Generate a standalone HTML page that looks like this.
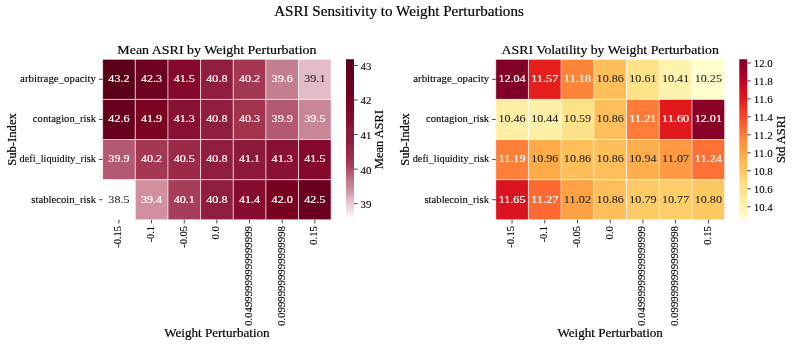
<!DOCTYPE html>
<html><head><meta charset="utf-8"><style>
html,body{margin:0;padding:0;background:#fff;overflow:hidden;}
svg{display:block;will-change:transform;}
text{font-family:"Liberation Serif",serif;}
</style></head><body>
<svg width="793" height="346" viewBox="0 0 793 346">
<rect width="793" height="346" fill="#fff"/>
<rect x="102.60" y="59.25" width="32.66" height="40.14" fill="#5a0018"/>
<rect x="135.26" y="59.25" width="32.66" height="40.14" fill="#6f0120"/>
<rect x="167.91" y="59.25" width="32.66" height="40.14" fill="#84082c"/>
<rect x="200.57" y="59.25" width="32.66" height="40.14" fill="#8f1d3e"/>
<rect x="233.23" y="59.25" width="32.66" height="40.14" fill="#a43853"/>
<rect x="265.89" y="59.25" width="32.66" height="40.14" fill="#c37e90"/>
<rect x="298.54" y="59.25" width="32.66" height="40.14" fill="#e2bcc7"/>
<rect x="102.60" y="99.39" width="32.66" height="40.14" fill="#67001e"/>
<rect x="135.26" y="99.39" width="32.66" height="40.14" fill="#7b0322"/>
<rect x="167.91" y="99.39" width="32.66" height="40.14" fill="#881133"/>
<rect x="200.57" y="99.39" width="32.66" height="40.14" fill="#8f1d3e"/>
<rect x="233.23" y="99.39" width="32.66" height="40.14" fill="#a1334d"/>
<rect x="265.89" y="99.39" width="32.66" height="40.14" fill="#b35971"/>
<rect x="298.54" y="99.39" width="32.66" height="40.14" fill="#c98697"/>
<rect x="102.60" y="139.53" width="32.66" height="40.14" fill="#b35971"/>
<rect x="135.26" y="139.53" width="32.66" height="40.14" fill="#a43853"/>
<rect x="167.91" y="139.53" width="32.66" height="40.14" fill="#9a2a47"/>
<rect x="200.57" y="139.53" width="32.66" height="40.14" fill="#8f1d3e"/>
<rect x="233.23" y="139.53" width="32.66" height="40.14" fill="#8c193a"/>
<rect x="265.89" y="139.53" width="32.66" height="40.14" fill="#881133"/>
<rect x="298.54" y="139.53" width="32.66" height="40.14" fill="#84082c"/>
<rect x="102.60" y="179.66" width="32.66" height="40.14" fill="#ffffff"/>
<rect x="135.26" y="179.66" width="32.66" height="40.14" fill="#d0909f"/>
<rect x="167.91" y="179.66" width="32.66" height="40.14" fill="#a63e5a"/>
<rect x="200.57" y="179.66" width="32.66" height="40.14" fill="#8f1d3e"/>
<rect x="233.23" y="179.66" width="32.66" height="40.14" fill="#860d30"/>
<rect x="265.89" y="179.66" width="32.66" height="40.14" fill="#78021f"/>
<rect x="298.54" y="179.66" width="32.66" height="40.14" fill="#690020"/>
<line x1="102.60" y1="58.90" x2="102.60" y2="220.15" stroke="#fff" stroke-width="0.7"/>
<line x1="135.26" y1="58.90" x2="135.26" y2="220.15" stroke="#fff" stroke-width="0.7"/>
<line x1="167.91" y1="58.90" x2="167.91" y2="220.15" stroke="#fff" stroke-width="0.7"/>
<line x1="200.57" y1="58.90" x2="200.57" y2="220.15" stroke="#fff" stroke-width="0.7"/>
<line x1="233.23" y1="58.90" x2="233.23" y2="220.15" stroke="#fff" stroke-width="0.7"/>
<line x1="265.89" y1="58.90" x2="265.89" y2="220.15" stroke="#fff" stroke-width="0.7"/>
<line x1="298.54" y1="58.90" x2="298.54" y2="220.15" stroke="#fff" stroke-width="0.7"/>
<line x1="331.20" y1="58.90" x2="331.20" y2="220.15" stroke="#fff" stroke-width="0.7"/>
<line x1="102.25" y1="59.25" x2="331.55" y2="59.25" stroke="#fff" stroke-width="0.7"/>
<line x1="102.25" y1="99.39" x2="331.55" y2="99.39" stroke="#fff" stroke-width="0.7"/>
<line x1="102.25" y1="139.53" x2="331.55" y2="139.53" stroke="#fff" stroke-width="0.7"/>
<line x1="102.25" y1="179.66" x2="331.55" y2="179.66" stroke="#fff" stroke-width="0.7"/>
<line x1="102.25" y1="219.80" x2="331.55" y2="219.80" stroke="#fff" stroke-width="0.7"/>
<text x="118.93" y="82.22" text-anchor="middle" font-size="10.64" fill="#ffffff" stroke="#ffffff" stroke-width="0.18" textLength="21.15" lengthAdjust="spacingAndGlyphs">43.2</text>
<text x="151.59" y="82.22" text-anchor="middle" font-size="10.64" fill="#ffffff" stroke="#ffffff" stroke-width="0.18" textLength="21.15" lengthAdjust="spacingAndGlyphs">42.3</text>
<text x="184.24" y="82.22" text-anchor="middle" font-size="10.64" fill="#ffffff" stroke="#ffffff" stroke-width="0.18" textLength="21.15" lengthAdjust="spacingAndGlyphs">41.5</text>
<text x="216.90" y="82.22" text-anchor="middle" font-size="10.64" fill="#ffffff" stroke="#ffffff" stroke-width="0.18" textLength="21.15" lengthAdjust="spacingAndGlyphs">40.8</text>
<text x="249.56" y="82.22" text-anchor="middle" font-size="10.64" fill="#ffffff" stroke="#ffffff" stroke-width="0.18" textLength="21.15" lengthAdjust="spacingAndGlyphs">40.2</text>
<text x="282.21" y="82.22" text-anchor="middle" font-size="10.64" fill="#ffffff" stroke="#ffffff" stroke-width="0.18" textLength="21.15" lengthAdjust="spacingAndGlyphs">39.6</text>
<text x="314.87" y="82.22" text-anchor="middle" font-size="10.64" fill="#262626" stroke="#262626" stroke-width="0.08" textLength="21.15" lengthAdjust="spacingAndGlyphs">39.1</text>
<text x="118.93" y="122.36" text-anchor="middle" font-size="10.64" fill="#ffffff" stroke="#ffffff" stroke-width="0.18" textLength="21.15" lengthAdjust="spacingAndGlyphs">42.6</text>
<text x="151.59" y="122.36" text-anchor="middle" font-size="10.64" fill="#ffffff" stroke="#ffffff" stroke-width="0.18" textLength="21.15" lengthAdjust="spacingAndGlyphs">41.9</text>
<text x="184.24" y="122.36" text-anchor="middle" font-size="10.64" fill="#ffffff" stroke="#ffffff" stroke-width="0.18" textLength="21.15" lengthAdjust="spacingAndGlyphs">41.3</text>
<text x="216.90" y="122.36" text-anchor="middle" font-size="10.64" fill="#ffffff" stroke="#ffffff" stroke-width="0.18" textLength="21.15" lengthAdjust="spacingAndGlyphs">40.8</text>
<text x="249.56" y="122.36" text-anchor="middle" font-size="10.64" fill="#ffffff" stroke="#ffffff" stroke-width="0.18" textLength="21.15" lengthAdjust="spacingAndGlyphs">40.3</text>
<text x="282.21" y="122.36" text-anchor="middle" font-size="10.64" fill="#ffffff" stroke="#ffffff" stroke-width="0.18" textLength="21.15" lengthAdjust="spacingAndGlyphs">39.9</text>
<text x="314.87" y="122.36" text-anchor="middle" font-size="10.64" fill="#ffffff" stroke="#ffffff" stroke-width="0.18" textLength="21.15" lengthAdjust="spacingAndGlyphs">39.5</text>
<text x="118.93" y="162.49" text-anchor="middle" font-size="10.64" fill="#ffffff" stroke="#ffffff" stroke-width="0.18" textLength="21.15" lengthAdjust="spacingAndGlyphs">39.9</text>
<text x="151.59" y="162.49" text-anchor="middle" font-size="10.64" fill="#ffffff" stroke="#ffffff" stroke-width="0.18" textLength="21.15" lengthAdjust="spacingAndGlyphs">40.2</text>
<text x="184.24" y="162.49" text-anchor="middle" font-size="10.64" fill="#ffffff" stroke="#ffffff" stroke-width="0.18" textLength="21.15" lengthAdjust="spacingAndGlyphs">40.5</text>
<text x="216.90" y="162.49" text-anchor="middle" font-size="10.64" fill="#ffffff" stroke="#ffffff" stroke-width="0.18" textLength="21.15" lengthAdjust="spacingAndGlyphs">40.8</text>
<text x="249.56" y="162.49" text-anchor="middle" font-size="10.64" fill="#ffffff" stroke="#ffffff" stroke-width="0.18" textLength="21.15" lengthAdjust="spacingAndGlyphs">41.1</text>
<text x="282.21" y="162.49" text-anchor="middle" font-size="10.64" fill="#ffffff" stroke="#ffffff" stroke-width="0.18" textLength="21.15" lengthAdjust="spacingAndGlyphs">41.3</text>
<text x="314.87" y="162.49" text-anchor="middle" font-size="10.64" fill="#ffffff" stroke="#ffffff" stroke-width="0.18" textLength="21.15" lengthAdjust="spacingAndGlyphs">41.5</text>
<text x="118.93" y="202.63" text-anchor="middle" font-size="10.64" fill="#262626" stroke="#262626" stroke-width="0.08" textLength="21.15" lengthAdjust="spacingAndGlyphs">38.5</text>
<text x="151.59" y="202.63" text-anchor="middle" font-size="10.64" fill="#ffffff" stroke="#ffffff" stroke-width="0.18" textLength="21.15" lengthAdjust="spacingAndGlyphs">39.4</text>
<text x="184.24" y="202.63" text-anchor="middle" font-size="10.64" fill="#ffffff" stroke="#ffffff" stroke-width="0.18" textLength="21.15" lengthAdjust="spacingAndGlyphs">40.1</text>
<text x="216.90" y="202.63" text-anchor="middle" font-size="10.64" fill="#ffffff" stroke="#ffffff" stroke-width="0.18" textLength="21.15" lengthAdjust="spacingAndGlyphs">40.8</text>
<text x="249.56" y="202.63" text-anchor="middle" font-size="10.64" fill="#ffffff" stroke="#ffffff" stroke-width="0.18" textLength="21.15" lengthAdjust="spacingAndGlyphs">41.4</text>
<text x="282.21" y="202.63" text-anchor="middle" font-size="10.64" fill="#ffffff" stroke="#ffffff" stroke-width="0.18" textLength="21.15" lengthAdjust="spacingAndGlyphs">42.0</text>
<text x="314.87" y="202.63" text-anchor="middle" font-size="10.64" fill="#ffffff" stroke="#ffffff" stroke-width="0.18" textLength="21.15" lengthAdjust="spacingAndGlyphs">42.5</text>
<line x1="99.00" y1="79.32" x2="102.60" y2="79.32" stroke="#000" stroke-width="0.75"/>
<text x="96.00" y="82.22" text-anchor="end" font-size="9.52" fill="#000" stroke="#000" stroke-width="0.1" textLength="75.88" lengthAdjust="spacingAndGlyphs">arbitrage_opacity</text>
<line x1="99.00" y1="119.46" x2="102.60" y2="119.46" stroke="#000" stroke-width="0.75"/>
<text x="96.00" y="122.36" text-anchor="end" font-size="9.52" fill="#000" stroke="#000" stroke-width="0.1" textLength="63.13" lengthAdjust="spacingAndGlyphs">contagion_risk</text>
<line x1="99.00" y1="159.59" x2="102.60" y2="159.59" stroke="#000" stroke-width="0.75"/>
<text x="96.00" y="162.49" text-anchor="end" font-size="9.52" fill="#000" stroke="#000" stroke-width="0.1" textLength="76.38" lengthAdjust="spacingAndGlyphs">defi_liquidity_risk</text>
<line x1="99.00" y1="199.73" x2="102.60" y2="199.73" stroke="#000" stroke-width="0.75"/>
<text x="96.00" y="202.63" text-anchor="end" font-size="9.52" fill="#000" stroke="#000" stroke-width="0.1" textLength="64.65" lengthAdjust="spacingAndGlyphs">stablecoin_risk</text>
<line x1="118.93" y1="219.80" x2="118.93" y2="223.40" stroke="#000" stroke-width="0.75"/>
<text transform="translate(121.23,226.00) rotate(-90)" text-anchor="end" font-size="9.52" fill="#000" stroke="#000" stroke-width="0.1" textLength="21.80" lengthAdjust="spacingAndGlyphs">-0.15</text>
<line x1="151.59" y1="219.80" x2="151.59" y2="223.40" stroke="#000" stroke-width="0.75"/>
<text transform="translate(153.89,226.00) rotate(-90)" text-anchor="end" font-size="9.52" fill="#000" stroke="#000" stroke-width="0.1" textLength="16.39" lengthAdjust="spacingAndGlyphs">-0.1</text>
<line x1="184.24" y1="219.80" x2="184.24" y2="223.40" stroke="#000" stroke-width="0.75"/>
<text transform="translate(186.54,226.00) rotate(-90)" text-anchor="end" font-size="9.52" fill="#000" stroke="#000" stroke-width="0.1" textLength="21.80" lengthAdjust="spacingAndGlyphs">-0.05</text>
<line x1="216.90" y1="219.80" x2="216.90" y2="223.40" stroke="#000" stroke-width="0.75"/>
<text transform="translate(219.20,226.00) rotate(-90)" text-anchor="end" font-size="9.52" fill="#000" stroke="#000" stroke-width="0.1" textLength="13.52" lengthAdjust="spacingAndGlyphs">0.0</text>
<line x1="249.56" y1="219.80" x2="249.56" y2="223.40" stroke="#000" stroke-width="0.75"/>
<text transform="translate(251.86,226.00) rotate(-90)" text-anchor="end" font-size="9.52" fill="#000" stroke="#000" stroke-width="0.1" textLength="100.05" lengthAdjust="spacingAndGlyphs">0.04999999999999999</text>
<line x1="282.21" y1="219.80" x2="282.21" y2="223.40" stroke="#000" stroke-width="0.75"/>
<text transform="translate(284.51,226.00) rotate(-90)" text-anchor="end" font-size="9.52" fill="#000" stroke="#000" stroke-width="0.1" textLength="100.05" lengthAdjust="spacingAndGlyphs">0.09999999999999998</text>
<line x1="314.87" y1="219.80" x2="314.87" y2="223.40" stroke="#000" stroke-width="0.75"/>
<text transform="translate(317.17,226.00) rotate(-90)" text-anchor="end" font-size="9.52" fill="#000" stroke="#000" stroke-width="0.1" textLength="18.93" lengthAdjust="spacingAndGlyphs">0.15</text>
<text x="216.90" y="53.70" text-anchor="middle" font-size="12.49" fill="#000" stroke="#000" stroke-width="0.18" textLength="199.11" lengthAdjust="spacingAndGlyphs">Mean ASRI by Weight Perturbation</text>
<text x="216.90" y="337.10" text-anchor="middle" font-size="11.48" fill="#000" stroke="#000" stroke-width="0.18" textLength="105.45" lengthAdjust="spacingAndGlyphs">Weight Perturbation</text>
<text transform="translate(15.70,139.53) rotate(-90)" text-anchor="middle" font-size="11.48" fill="#000" stroke="#000" stroke-width="0.18" textLength="52.71" lengthAdjust="spacingAndGlyphs">Sub-Index</text>
<defs><linearGradient id="gL" x1="0" y1="0" x2="0" y2="1"><stop offset="0.0000" stop-color="#5a0018"/><stop offset="0.0127" stop-color="#5b0019"/><stop offset="0.0253" stop-color="#5d0019"/><stop offset="0.0380" stop-color="#5e001a"/><stop offset="0.0506" stop-color="#5f001b"/><stop offset="0.0633" stop-color="#61001b"/><stop offset="0.0759" stop-color="#62001c"/><stop offset="0.0886" stop-color="#63001d"/><stop offset="0.1013" stop-color="#64001d"/><stop offset="0.1139" stop-color="#66001e"/><stop offset="0.1266" stop-color="#67001f"/><stop offset="0.1392" stop-color="#69001f"/><stop offset="0.1519" stop-color="#6a0020"/><stop offset="0.1646" stop-color="#6c0020"/><stop offset="0.1772" stop-color="#6e0120"/><stop offset="0.1899" stop-color="#6f0120"/><stop offset="0.2025" stop-color="#710120"/><stop offset="0.2152" stop-color="#73011f"/><stop offset="0.2278" stop-color="#75021f"/><stop offset="0.2405" stop-color="#76021f"/><stop offset="0.2532" stop-color="#78021f"/><stop offset="0.2658" stop-color="#7a0321"/><stop offset="0.2785" stop-color="#7b0422"/><stop offset="0.2911" stop-color="#7c0424"/><stop offset="0.3038" stop-color="#7e0525"/><stop offset="0.3165" stop-color="#7f0627"/><stop offset="0.3291" stop-color="#810628"/><stop offset="0.3418" stop-color="#82072a"/><stop offset="0.3544" stop-color="#83082b"/><stop offset="0.3671" stop-color="#84092d"/><stop offset="0.3797" stop-color="#860c2f"/><stop offset="0.3924" stop-color="#870e31"/><stop offset="0.4051" stop-color="#881133"/><stop offset="0.4177" stop-color="#891335"/><stop offset="0.4304" stop-color="#8a1637"/><stop offset="0.4430" stop-color="#8b1939"/><stop offset="0.4557" stop-color="#8c1a3a"/><stop offset="0.4684" stop-color="#8d1b3b"/><stop offset="0.4810" stop-color="#8d1b3c"/><stop offset="0.4937" stop-color="#8d1b3c"/><stop offset="0.5063" stop-color="#8e1c3d"/><stop offset="0.5190" stop-color="#8f1e3e"/><stop offset="0.5316" stop-color="#922140"/><stop offset="0.5443" stop-color="#942342"/><stop offset="0.5570" stop-color="#962644"/><stop offset="0.5696" stop-color="#982846"/><stop offset="0.5823" stop-color="#9b2b48"/><stop offset="0.5949" stop-color="#9d2e4a"/><stop offset="0.6076" stop-color="#9f304c"/><stop offset="0.6203" stop-color="#a1334d"/><stop offset="0.6329" stop-color="#a33651"/><stop offset="0.6456" stop-color="#a53a55"/><stop offset="0.6582" stop-color="#a63d58"/><stop offset="0.6709" stop-color="#a8425e"/><stop offset="0.6835" stop-color="#ac4a64"/><stop offset="0.6962" stop-color="#b1556d"/><stop offset="0.7089" stop-color="#b45b73"/><stop offset="0.7215" stop-color="#b76278"/><stop offset="0.7342" stop-color="#ba697e"/><stop offset="0.7468" stop-color="#bd7185"/><stop offset="0.7595" stop-color="#c0788b"/><stop offset="0.7722" stop-color="#c37e90"/><stop offset="0.7848" stop-color="#c68394"/><stop offset="0.7975" stop-color="#cb8a9a"/><stop offset="0.8101" stop-color="#cf8f9e"/><stop offset="0.8228" stop-color="#d296a4"/><stop offset="0.8354" stop-color="#d69eac"/><stop offset="0.8481" stop-color="#daa9b5"/><stop offset="0.8608" stop-color="#ddb1bd"/><stop offset="0.8734" stop-color="#e1b9c4"/><stop offset="0.8861" stop-color="#e4c0ca"/><stop offset="0.8987" stop-color="#e8c9d2"/><stop offset="0.9114" stop-color="#eacfd7"/><stop offset="0.9241" stop-color="#edd6dd"/><stop offset="0.9367" stop-color="#f0dce2"/><stop offset="0.9494" stop-color="#f4e5e9"/><stop offset="0.9620" stop-color="#f7ebef"/><stop offset="0.9747" stop-color="#f9f2f4"/><stop offset="0.9873" stop-color="#fcf8fa"/><stop offset="1.0000" stop-color="#ffffff"/></linearGradient></defs>
<rect x="346.00" y="59.25" width="8.00" height="160.55" fill="url(#gL)"/>
<line x1="354.00" y1="203.69" x2="357.60" y2="203.69" stroke="#000" stroke-width="0.75"/>
<text x="360.60" y="208.09" text-anchor="start" font-size="9.52" fill="#000" stroke="#000" stroke-width="0.1" textLength="10.82" lengthAdjust="spacingAndGlyphs">39</text>
<line x1="354.00" y1="169.12" x2="357.60" y2="169.12" stroke="#000" stroke-width="0.75"/>
<text x="360.60" y="173.52" text-anchor="start" font-size="9.52" fill="#000" stroke="#000" stroke-width="0.1" textLength="10.82" lengthAdjust="spacingAndGlyphs">40</text>
<line x1="354.00" y1="134.55" x2="357.60" y2="134.55" stroke="#000" stroke-width="0.75"/>
<text x="360.60" y="138.95" text-anchor="start" font-size="9.52" fill="#000" stroke="#000" stroke-width="0.1" textLength="10.82" lengthAdjust="spacingAndGlyphs">41</text>
<line x1="354.00" y1="99.98" x2="357.60" y2="99.98" stroke="#000" stroke-width="0.75"/>
<text x="360.60" y="104.38" text-anchor="start" font-size="9.52" fill="#000" stroke="#000" stroke-width="0.1" textLength="10.82" lengthAdjust="spacingAndGlyphs">42</text>
<line x1="354.00" y1="65.40" x2="357.60" y2="65.40" stroke="#000" stroke-width="0.75"/>
<text x="360.60" y="69.80" text-anchor="start" font-size="9.52" fill="#000" stroke="#000" stroke-width="0.1" textLength="10.82" lengthAdjust="spacingAndGlyphs">43</text>
<rect x="495.70" y="59.25" width="32.71" height="40.14" fill="#800026"/>
<rect x="528.41" y="59.25" width="32.71" height="40.14" fill="#e61f1d"/>
<rect x="561.13" y="59.25" width="32.71" height="40.14" fill="#fd8439"/>
<rect x="593.84" y="59.25" width="32.71" height="40.14" fill="#febe59"/>
<rect x="626.56" y="59.25" width="32.71" height="40.14" fill="#fee288"/>
<rect x="659.27" y="59.25" width="32.71" height="40.14" fill="#fff3ae"/>
<rect x="691.99" y="59.25" width="32.71" height="40.14" fill="#ffffcc"/>
<rect x="495.70" y="99.39" width="32.71" height="40.14" fill="#ffefa4"/>
<rect x="528.41" y="99.39" width="32.71" height="40.14" fill="#fff0a8"/>
<rect x="561.13" y="99.39" width="32.71" height="40.14" fill="#fee38b"/>
<rect x="593.84" y="99.39" width="32.71" height="40.14" fill="#febe59"/>
<rect x="626.56" y="99.39" width="32.71" height="40.14" fill="#fd7c37"/>
<rect x="659.27" y="99.39" width="32.71" height="40.14" fill="#e2191c"/>
<rect x="691.99" y="99.39" width="32.71" height="40.14" fill="#880026"/>
<rect x="495.70" y="139.53" width="32.71" height="40.14" fill="#fd8038"/>
<rect x="528.41" y="139.53" width="32.71" height="40.14" fill="#feac49"/>
<rect x="561.13" y="139.53" width="32.71" height="40.14" fill="#febe59"/>
<rect x="593.84" y="139.53" width="32.71" height="40.14" fill="#febe59"/>
<rect x="626.56" y="139.53" width="32.71" height="40.14" fill="#feaf4b"/>
<rect x="659.27" y="139.53" width="32.71" height="40.14" fill="#fd9a42"/>
<rect x="691.99" y="139.53" width="32.71" height="40.14" fill="#fd7234"/>
<rect x="495.70" y="179.66" width="32.71" height="40.14" fill="#da141e"/>
<rect x="528.41" y="179.66" width="32.71" height="40.14" fill="#fc6a32"/>
<rect x="561.13" y="179.66" width="32.71" height="40.14" fill="#fea245"/>
<rect x="593.84" y="179.66" width="32.71" height="40.14" fill="#febe59"/>
<rect x="626.56" y="179.66" width="32.71" height="40.14" fill="#feca66"/>
<rect x="659.27" y="179.66" width="32.71" height="40.14" fill="#fece6a"/>
<rect x="691.99" y="179.66" width="32.71" height="40.14" fill="#fec863"/>
<line x1="495.70" y1="58.90" x2="495.70" y2="220.15" stroke="#fff" stroke-width="0.7"/>
<line x1="528.41" y1="58.90" x2="528.41" y2="220.15" stroke="#fff" stroke-width="0.7"/>
<line x1="561.13" y1="58.90" x2="561.13" y2="220.15" stroke="#fff" stroke-width="0.7"/>
<line x1="593.84" y1="58.90" x2="593.84" y2="220.15" stroke="#fff" stroke-width="0.7"/>
<line x1="626.56" y1="58.90" x2="626.56" y2="220.15" stroke="#fff" stroke-width="0.7"/>
<line x1="659.27" y1="58.90" x2="659.27" y2="220.15" stroke="#fff" stroke-width="0.7"/>
<line x1="691.99" y1="58.90" x2="691.99" y2="220.15" stroke="#fff" stroke-width="0.7"/>
<line x1="724.70" y1="58.90" x2="724.70" y2="220.15" stroke="#fff" stroke-width="0.7"/>
<line x1="495.35" y1="59.25" x2="725.05" y2="59.25" stroke="#fff" stroke-width="0.7"/>
<line x1="495.35" y1="99.39" x2="725.05" y2="99.39" stroke="#fff" stroke-width="0.7"/>
<line x1="495.35" y1="139.53" x2="725.05" y2="139.53" stroke="#fff" stroke-width="0.7"/>
<line x1="495.35" y1="179.66" x2="725.05" y2="179.66" stroke="#fff" stroke-width="0.7"/>
<line x1="495.35" y1="219.80" x2="725.05" y2="219.80" stroke="#fff" stroke-width="0.7"/>
<text x="512.06" y="82.22" text-anchor="middle" font-size="10.64" fill="#ffffff" stroke="#ffffff" stroke-width="0.18" textLength="27.20" lengthAdjust="spacingAndGlyphs">12.04</text>
<text x="544.77" y="82.22" text-anchor="middle" font-size="10.64" fill="#ffffff" stroke="#ffffff" stroke-width="0.18" textLength="27.20" lengthAdjust="spacingAndGlyphs">11.57</text>
<text x="577.49" y="82.22" text-anchor="middle" font-size="10.64" fill="#ffffff" stroke="#ffffff" stroke-width="0.18" textLength="27.20" lengthAdjust="spacingAndGlyphs">11.18</text>
<text x="610.20" y="82.22" text-anchor="middle" font-size="10.64" fill="#262626" stroke="#262626" stroke-width="0.08" textLength="27.20" lengthAdjust="spacingAndGlyphs">10.86</text>
<text x="642.91" y="82.22" text-anchor="middle" font-size="10.64" fill="#262626" stroke="#262626" stroke-width="0.08" textLength="27.20" lengthAdjust="spacingAndGlyphs">10.61</text>
<text x="675.63" y="82.22" text-anchor="middle" font-size="10.64" fill="#262626" stroke="#262626" stroke-width="0.08" textLength="27.20" lengthAdjust="spacingAndGlyphs">10.41</text>
<text x="708.34" y="82.22" text-anchor="middle" font-size="10.64" fill="#262626" stroke="#262626" stroke-width="0.08" textLength="27.20" lengthAdjust="spacingAndGlyphs">10.25</text>
<text x="512.06" y="122.36" text-anchor="middle" font-size="10.64" fill="#262626" stroke="#262626" stroke-width="0.08" textLength="27.20" lengthAdjust="spacingAndGlyphs">10.46</text>
<text x="544.77" y="122.36" text-anchor="middle" font-size="10.64" fill="#262626" stroke="#262626" stroke-width="0.08" textLength="27.20" lengthAdjust="spacingAndGlyphs">10.44</text>
<text x="577.49" y="122.36" text-anchor="middle" font-size="10.64" fill="#262626" stroke="#262626" stroke-width="0.08" textLength="27.20" lengthAdjust="spacingAndGlyphs">10.59</text>
<text x="610.20" y="122.36" text-anchor="middle" font-size="10.64" fill="#262626" stroke="#262626" stroke-width="0.08" textLength="27.20" lengthAdjust="spacingAndGlyphs">10.86</text>
<text x="642.91" y="122.36" text-anchor="middle" font-size="10.64" fill="#ffffff" stroke="#ffffff" stroke-width="0.18" textLength="27.20" lengthAdjust="spacingAndGlyphs">11.21</text>
<text x="675.63" y="122.36" text-anchor="middle" font-size="10.64" fill="#ffffff" stroke="#ffffff" stroke-width="0.18" textLength="27.20" lengthAdjust="spacingAndGlyphs">11.60</text>
<text x="708.34" y="122.36" text-anchor="middle" font-size="10.64" fill="#ffffff" stroke="#ffffff" stroke-width="0.18" textLength="27.20" lengthAdjust="spacingAndGlyphs">12.01</text>
<text x="512.06" y="162.49" text-anchor="middle" font-size="10.64" fill="#ffffff" stroke="#ffffff" stroke-width="0.18" textLength="27.20" lengthAdjust="spacingAndGlyphs">11.19</text>
<text x="544.77" y="162.49" text-anchor="middle" font-size="10.64" fill="#262626" stroke="#262626" stroke-width="0.08" textLength="27.20" lengthAdjust="spacingAndGlyphs">10.96</text>
<text x="577.49" y="162.49" text-anchor="middle" font-size="10.64" fill="#262626" stroke="#262626" stroke-width="0.08" textLength="27.20" lengthAdjust="spacingAndGlyphs">10.86</text>
<text x="610.20" y="162.49" text-anchor="middle" font-size="10.64" fill="#262626" stroke="#262626" stroke-width="0.08" textLength="27.20" lengthAdjust="spacingAndGlyphs">10.86</text>
<text x="642.91" y="162.49" text-anchor="middle" font-size="10.64" fill="#262626" stroke="#262626" stroke-width="0.08" textLength="27.20" lengthAdjust="spacingAndGlyphs">10.94</text>
<text x="675.63" y="162.49" text-anchor="middle" font-size="10.64" fill="#262626" stroke="#262626" stroke-width="0.08" textLength="27.20" lengthAdjust="spacingAndGlyphs">11.07</text>
<text x="708.34" y="162.49" text-anchor="middle" font-size="10.64" fill="#ffffff" stroke="#ffffff" stroke-width="0.18" textLength="27.20" lengthAdjust="spacingAndGlyphs">11.24</text>
<text x="512.06" y="202.63" text-anchor="middle" font-size="10.64" fill="#ffffff" stroke="#ffffff" stroke-width="0.18" textLength="27.20" lengthAdjust="spacingAndGlyphs">11.65</text>
<text x="544.77" y="202.63" text-anchor="middle" font-size="10.64" fill="#ffffff" stroke="#ffffff" stroke-width="0.18" textLength="27.20" lengthAdjust="spacingAndGlyphs">11.27</text>
<text x="577.49" y="202.63" text-anchor="middle" font-size="10.64" fill="#262626" stroke="#262626" stroke-width="0.08" textLength="27.20" lengthAdjust="spacingAndGlyphs">11.02</text>
<text x="610.20" y="202.63" text-anchor="middle" font-size="10.64" fill="#262626" stroke="#262626" stroke-width="0.08" textLength="27.20" lengthAdjust="spacingAndGlyphs">10.86</text>
<text x="642.91" y="202.63" text-anchor="middle" font-size="10.64" fill="#262626" stroke="#262626" stroke-width="0.08" textLength="27.20" lengthAdjust="spacingAndGlyphs">10.79</text>
<text x="675.63" y="202.63" text-anchor="middle" font-size="10.64" fill="#262626" stroke="#262626" stroke-width="0.08" textLength="27.20" lengthAdjust="spacingAndGlyphs">10.77</text>
<text x="708.34" y="202.63" text-anchor="middle" font-size="10.64" fill="#262626" stroke="#262626" stroke-width="0.08" textLength="27.20" lengthAdjust="spacingAndGlyphs">10.80</text>
<line x1="492.10" y1="79.32" x2="495.70" y2="79.32" stroke="#000" stroke-width="0.75"/>
<text x="489.10" y="82.22" text-anchor="end" font-size="9.52" fill="#000" stroke="#000" stroke-width="0.1" textLength="75.88" lengthAdjust="spacingAndGlyphs">arbitrage_opacity</text>
<line x1="492.10" y1="119.46" x2="495.70" y2="119.46" stroke="#000" stroke-width="0.75"/>
<text x="489.10" y="122.36" text-anchor="end" font-size="9.52" fill="#000" stroke="#000" stroke-width="0.1" textLength="63.13" lengthAdjust="spacingAndGlyphs">contagion_risk</text>
<line x1="492.10" y1="159.59" x2="495.70" y2="159.59" stroke="#000" stroke-width="0.75"/>
<text x="489.10" y="162.49" text-anchor="end" font-size="9.52" fill="#000" stroke="#000" stroke-width="0.1" textLength="76.38" lengthAdjust="spacingAndGlyphs">defi_liquidity_risk</text>
<line x1="492.10" y1="199.73" x2="495.70" y2="199.73" stroke="#000" stroke-width="0.75"/>
<text x="489.10" y="202.63" text-anchor="end" font-size="9.52" fill="#000" stroke="#000" stroke-width="0.1" textLength="64.65" lengthAdjust="spacingAndGlyphs">stablecoin_risk</text>
<line x1="512.06" y1="219.80" x2="512.06" y2="223.40" stroke="#000" stroke-width="0.75"/>
<text transform="translate(514.36,226.00) rotate(-90)" text-anchor="end" font-size="9.52" fill="#000" stroke="#000" stroke-width="0.1" textLength="21.80" lengthAdjust="spacingAndGlyphs">-0.15</text>
<line x1="544.77" y1="219.80" x2="544.77" y2="223.40" stroke="#000" stroke-width="0.75"/>
<text transform="translate(547.07,226.00) rotate(-90)" text-anchor="end" font-size="9.52" fill="#000" stroke="#000" stroke-width="0.1" textLength="16.39" lengthAdjust="spacingAndGlyphs">-0.1</text>
<line x1="577.49" y1="219.80" x2="577.49" y2="223.40" stroke="#000" stroke-width="0.75"/>
<text transform="translate(579.79,226.00) rotate(-90)" text-anchor="end" font-size="9.52" fill="#000" stroke="#000" stroke-width="0.1" textLength="21.80" lengthAdjust="spacingAndGlyphs">-0.05</text>
<line x1="610.20" y1="219.80" x2="610.20" y2="223.40" stroke="#000" stroke-width="0.75"/>
<text transform="translate(612.50,226.00) rotate(-90)" text-anchor="end" font-size="9.52" fill="#000" stroke="#000" stroke-width="0.1" textLength="13.52" lengthAdjust="spacingAndGlyphs">0.0</text>
<line x1="642.91" y1="219.80" x2="642.91" y2="223.40" stroke="#000" stroke-width="0.75"/>
<text transform="translate(645.21,226.00) rotate(-90)" text-anchor="end" font-size="9.52" fill="#000" stroke="#000" stroke-width="0.1" textLength="100.05" lengthAdjust="spacingAndGlyphs">0.04999999999999999</text>
<line x1="675.63" y1="219.80" x2="675.63" y2="223.40" stroke="#000" stroke-width="0.75"/>
<text transform="translate(677.93,226.00) rotate(-90)" text-anchor="end" font-size="9.52" fill="#000" stroke="#000" stroke-width="0.1" textLength="100.05" lengthAdjust="spacingAndGlyphs">0.09999999999999998</text>
<line x1="708.34" y1="219.80" x2="708.34" y2="223.40" stroke="#000" stroke-width="0.75"/>
<text transform="translate(710.64,226.00) rotate(-90)" text-anchor="end" font-size="9.52" fill="#000" stroke="#000" stroke-width="0.1" textLength="18.93" lengthAdjust="spacingAndGlyphs">0.15</text>
<text x="610.20" y="53.70" text-anchor="middle" font-size="12.49" fill="#000" stroke="#000" stroke-width="0.18" textLength="217.18" lengthAdjust="spacingAndGlyphs">ASRI Volatility by Weight Perturbation</text>
<text x="610.20" y="337.10" text-anchor="middle" font-size="11.48" fill="#000" stroke="#000" stroke-width="0.18" textLength="105.45" lengthAdjust="spacingAndGlyphs">Weight Perturbation</text>
<text transform="translate(408.80,139.53) rotate(-90)" text-anchor="middle" font-size="11.48" fill="#000" stroke="#000" stroke-width="0.18" textLength="52.71" lengthAdjust="spacingAndGlyphs">Sub-Index</text>
<defs><linearGradient id="gR" x1="0" y1="0" x2="0" y2="1"><stop offset="0.0000" stop-color="#800026"/><stop offset="0.0127" stop-color="#860026"/><stop offset="0.0253" stop-color="#8b0026"/><stop offset="0.0380" stop-color="#910026"/><stop offset="0.0506" stop-color="#970026"/><stop offset="0.0633" stop-color="#9f0026"/><stop offset="0.0759" stop-color="#a40026"/><stop offset="0.0886" stop-color="#aa0026"/><stop offset="0.1013" stop-color="#b00026"/><stop offset="0.1139" stop-color="#b70026"/><stop offset="0.1266" stop-color="#bd0026"/><stop offset="0.1392" stop-color="#c10325"/><stop offset="0.1519" stop-color="#c40524"/><stop offset="0.1646" stop-color="#c90823"/><stop offset="0.1772" stop-color="#cd0b22"/><stop offset="0.1899" stop-color="#d00d21"/><stop offset="0.2025" stop-color="#d41020"/><stop offset="0.2152" stop-color="#d9131f"/><stop offset="0.2278" stop-color="#dc151e"/><stop offset="0.2405" stop-color="#e0181d"/><stop offset="0.2532" stop-color="#e31a1c"/><stop offset="0.2658" stop-color="#e6211e"/><stop offset="0.2785" stop-color="#e9261f"/><stop offset="0.2911" stop-color="#eb2b21"/><stop offset="0.3038" stop-color="#ed3022"/><stop offset="0.3165" stop-color="#f13624"/><stop offset="0.3291" stop-color="#f33b25"/><stop offset="0.3418" stop-color="#f54026"/><stop offset="0.3544" stop-color="#f84528"/><stop offset="0.3671" stop-color="#fa4a29"/><stop offset="0.3797" stop-color="#fc512b"/><stop offset="0.3924" stop-color="#fc572c"/><stop offset="0.4051" stop-color="#fc5d2e"/><stop offset="0.4177" stop-color="#fc6330"/><stop offset="0.4304" stop-color="#fc6a32"/><stop offset="0.4430" stop-color="#fd7034"/><stop offset="0.4557" stop-color="#fd7636"/><stop offset="0.4684" stop-color="#fd7c37"/><stop offset="0.4810" stop-color="#fd8439"/><stop offset="0.4937" stop-color="#fd8a3b"/><stop offset="0.5063" stop-color="#fd8f3d"/><stop offset="0.5190" stop-color="#fd923e"/><stop offset="0.5316" stop-color="#fd9740"/><stop offset="0.5443" stop-color="#fd9a42"/><stop offset="0.5570" stop-color="#fd9e43"/><stop offset="0.5696" stop-color="#fea145"/><stop offset="0.5823" stop-color="#fea647"/><stop offset="0.5949" stop-color="#fea948"/><stop offset="0.6076" stop-color="#fead4a"/><stop offset="0.6203" stop-color="#feb04b"/><stop offset="0.6329" stop-color="#feb54f"/><stop offset="0.6456" stop-color="#feb953"/><stop offset="0.6582" stop-color="#febd57"/><stop offset="0.6709" stop-color="#fec05b"/><stop offset="0.6835" stop-color="#fec45f"/><stop offset="0.6962" stop-color="#fec965"/><stop offset="0.7089" stop-color="#fecc68"/><stop offset="0.7215" stop-color="#fed06c"/><stop offset="0.7342" stop-color="#fed470"/><stop offset="0.7468" stop-color="#fed976"/><stop offset="0.7595" stop-color="#fedb7a"/><stop offset="0.7722" stop-color="#fedd7e"/><stop offset="0.7848" stop-color="#fede82"/><stop offset="0.7975" stop-color="#fee187"/><stop offset="0.8101" stop-color="#fee38b"/><stop offset="0.8228" stop-color="#ffe58f"/><stop offset="0.8354" stop-color="#ffe793"/><stop offset="0.8481" stop-color="#ffe998"/><stop offset="0.8608" stop-color="#ffeb9c"/><stop offset="0.8734" stop-color="#ffeda0"/><stop offset="0.8861" stop-color="#ffefa4"/><stop offset="0.8987" stop-color="#fff1a9"/><stop offset="0.9114" stop-color="#fff3ae"/><stop offset="0.9241" stop-color="#fff4b2"/><stop offset="0.9367" stop-color="#fff6b6"/><stop offset="0.9494" stop-color="#fff8bb"/><stop offset="0.9620" stop-color="#fffac0"/><stop offset="0.9747" stop-color="#fffcc4"/><stop offset="0.9873" stop-color="#fffdc8"/><stop offset="1.0000" stop-color="#ffffcc"/></linearGradient></defs>
<rect x="739.30" y="59.25" width="7.90" height="160.55" fill="url(#gR)"/>
<line x1="747.20" y1="206.77" x2="750.80" y2="206.77" stroke="#000" stroke-width="0.75"/>
<text x="753.80" y="211.17" text-anchor="start" font-size="9.52" fill="#000" stroke="#000" stroke-width="0.1" textLength="18.93" lengthAdjust="spacingAndGlyphs">10.4</text>
<line x1="747.20" y1="188.79" x2="750.80" y2="188.79" stroke="#000" stroke-width="0.75"/>
<text x="753.80" y="193.19" text-anchor="start" font-size="9.52" fill="#000" stroke="#000" stroke-width="0.1" textLength="18.93" lengthAdjust="spacingAndGlyphs">10.6</text>
<line x1="747.20" y1="170.81" x2="750.80" y2="170.81" stroke="#000" stroke-width="0.75"/>
<text x="753.80" y="175.21" text-anchor="start" font-size="9.52" fill="#000" stroke="#000" stroke-width="0.1" textLength="18.93" lengthAdjust="spacingAndGlyphs">10.8</text>
<line x1="747.20" y1="152.83" x2="750.80" y2="152.83" stroke="#000" stroke-width="0.75"/>
<text x="753.80" y="157.23" text-anchor="start" font-size="9.52" fill="#000" stroke="#000" stroke-width="0.1" textLength="18.93" lengthAdjust="spacingAndGlyphs">11.0</text>
<line x1="747.20" y1="134.85" x2="750.80" y2="134.85" stroke="#000" stroke-width="0.75"/>
<text x="753.80" y="139.25" text-anchor="start" font-size="9.52" fill="#000" stroke="#000" stroke-width="0.1" textLength="18.93" lengthAdjust="spacingAndGlyphs">11.2</text>
<line x1="747.20" y1="116.87" x2="750.80" y2="116.87" stroke="#000" stroke-width="0.75"/>
<text x="753.80" y="121.27" text-anchor="start" font-size="9.52" fill="#000" stroke="#000" stroke-width="0.1" textLength="18.93" lengthAdjust="spacingAndGlyphs">11.4</text>
<line x1="747.20" y1="98.89" x2="750.80" y2="98.89" stroke="#000" stroke-width="0.75"/>
<text x="753.80" y="103.29" text-anchor="start" font-size="9.52" fill="#000" stroke="#000" stroke-width="0.1" textLength="18.93" lengthAdjust="spacingAndGlyphs">11.6</text>
<line x1="747.20" y1="80.91" x2="750.80" y2="80.91" stroke="#000" stroke-width="0.75"/>
<text x="753.80" y="85.31" text-anchor="start" font-size="9.52" fill="#000" stroke="#000" stroke-width="0.1" textLength="18.93" lengthAdjust="spacingAndGlyphs">11.8</text>
<line x1="747.20" y1="62.94" x2="750.80" y2="62.94" stroke="#000" stroke-width="0.75"/>
<text x="753.80" y="67.34" text-anchor="start" font-size="9.52" fill="#000" stroke="#000" stroke-width="0.1" textLength="18.93" lengthAdjust="spacingAndGlyphs">12.0</text>
<text transform="translate(383.20,139.53) rotate(-90)" text-anchor="middle" font-size="11.48" fill="#000" stroke="#000" stroke-width="0.18" textLength="58.72" lengthAdjust="spacingAndGlyphs">Mean ASRI</text>
<text transform="translate(785.30,139.53) rotate(-90)" text-anchor="middle" font-size="11.48" fill="#000" stroke="#000" stroke-width="0.18" textLength="47.15" lengthAdjust="spacingAndGlyphs">Std ASRI</text>
<text x="399.00" y="15.90" text-anchor="middle" font-size="13.55" fill="#000" stroke="#000" stroke-width="0.18" textLength="249.75" lengthAdjust="spacingAndGlyphs">ASRI Sensitivity to Weight Perturbations</text>
</svg></body></html>
